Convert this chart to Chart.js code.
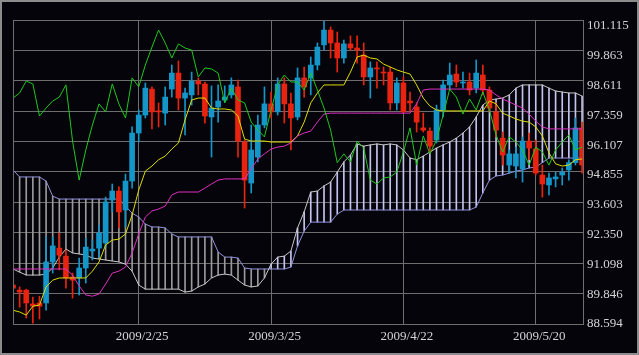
<!DOCTYPE html>
<html>
<head>
<meta charset="utf-8">
<title>USD/JPY Ichimoku</title>
<script src="https://cdn.jsdelivr.net/npm/chart.js@4.4.0/dist/chart.umd.min.js"></script>
<style>
  html, body { margin: 0; padding: 0; background: #04040a; }
  canvas { display: block; }
</style>
</head>
<body>
<canvas id="chart" width="639" height="355"></canvas>
<script>
// ─── Data (daily bars, 2009/1/29 – 2009/5/29) ────────────────────
const xTickIndex  = [19, 39, 59, 79];
const xTickLabels = ["2009/2/25", "2009/3/25", "2009/4/22", "2009/5/20"];

const yTickValues = [101.115, 99.863, 98.611, 97.359, 96.107, 94.855, 93.603, 92.350, 91.098, 89.846, 88.594];
const yTickLabels = ["101.115", "99.863", "98.611", "97.359", "96.107", "94.855", "93.603", "92.350", "91.098", "89.846", "88.594"];

const open = [
  90.20, 89.99, 89.99, 89.42, 89.46, 89.46, 91.15, 91.72, 91.39, 90.53,
  90.49, 90.90, 91.60, 91.72, 91.93, 93.70, 94.07, 93.29, 94.48, 96.46,
  97.20, 98.27, 97.37, 97.28, 98.27, 98.93, 97.90, 98.03, 98.60, 98.48,
  97.12, 97.53, 97.82, 98.03, 98.36, 96.09, 94.40, 95.47, 96.79, 97.66,
  97.33, 98.48, 97.66, 97.12, 98.73, 98.73, 99.26, 100.09, 100.70, 100.17,
  99.55, 100.13, 99.96, 99.67, 98.77, 99.14, 98.97, 98.97, 97.70, 98.52,
  97.78, 97.53, 96.67, 96.54, 96.17, 97.41, 98.44, 98.89, 98.52, 98.56,
  98.31, 98.85, 98.23, 97.33, 96.25, 95.14, 95.10, 94.98, 96.13, 95.80,
  94.73, 94.32, 94.57, 94.73, 94.94, 95.24, 96.67
];
const high = [
  90.24, 90.12, 90.03, 89.70, 89.74, 92.18, 92.18, 92.34, 91.64, 90.69,
  91.31, 92.13, 92.05, 92.67, 93.82, 94.36, 94.24, 94.77, 96.71, 97.41,
  98.52, 98.36, 97.70, 98.36, 99.26, 99.43, 98.31, 98.97, 98.73, 98.56,
  98.40, 98.44, 98.40, 98.73, 98.64, 96.17, 96.79, 97.20, 98.36, 98.15,
  98.73, 98.73, 98.11, 99.14, 99.18, 99.59, 100.17, 101.10, 100.83, 100.62,
  100.29, 100.46, 100.46, 100.17, 99.39, 99.39, 99.18, 99.18, 98.73, 98.77,
  98.15, 97.70, 97.28, 96.67, 97.61, 98.64, 99.34, 99.26, 98.97, 98.93,
  99.47, 99.26, 98.36, 97.70, 96.50, 95.76, 95.88, 96.30, 96.46, 96.17,
  95.14, 94.81, 94.85, 95.02, 95.36, 97.08, 96.91
];
const low = [
  89.95, 89.29, 88.84, 88.63, 88.80, 89.16, 90.69, 90.82, 90.07, 89.66,
  89.79, 90.28, 91.23, 91.35, 91.76, 93.21, 92.55, 92.59, 94.19, 96.09,
  97.08, 96.63, 96.71, 96.79, 97.94, 97.41, 96.38, 97.61, 98.03, 96.87,
  95.47, 96.91, 97.74, 97.90, 95.47, 93.37, 93.99, 95.27, 96.67, 97.08,
  97.20, 96.87, 95.76, 97.00, 97.94, 98.03, 99.06, 99.88, 99.55, 98.97,
  99.34, 99.88, 99.34, 98.44, 97.90, 98.31, 98.44, 97.41, 97.41, 97.28,
  97.33, 96.50, 96.50, 95.64, 96.05, 97.12, 98.23, 98.36, 98.31, 98.03,
  98.11, 98.03, 97.33, 96.30, 95.14, 94.81, 94.61, 94.44, 95.36, 94.73,
  93.82, 93.91, 94.24, 94.32, 94.52, 95.14, 94.81
];
const close = [
  90.07, 89.91, 89.46, 89.33, 89.33, 91.15, 91.81, 91.43, 90.49, 90.40,
  90.90, 91.76, 91.68, 92.34, 93.62, 94.07, 93.21, 94.48, 96.46, 97.20,
  98.31, 97.33, 97.33, 97.94, 98.93, 97.90, 98.11, 98.60, 98.48, 97.16,
  97.49, 97.78, 97.94, 98.44, 96.13, 94.52, 95.76, 96.79, 97.66, 97.33,
  98.48, 97.66, 97.08, 98.73, 98.36, 99.26, 100.00, 100.70, 100.17, 99.55,
  100.13, 99.96, 99.88, 98.77, 99.14, 99.10, 98.93, 97.70, 98.52, 97.33,
  97.70, 96.91, 96.58, 95.92, 97.41, 98.44, 98.85, 98.56, 98.56, 98.23,
  98.93, 98.23, 97.49, 96.58, 95.55, 95.60, 95.60, 96.13, 95.84, 94.81,
  94.36, 94.61, 94.65, 94.85, 95.24, 96.67, 95.14
];

// conversion line (yellow)
const tenkan = [
  89.16, 89.09, 88.96, 89.33, 89.37, 90.12, 90.40, 90.49, 90.49, 90.49,
  90.49, 90.49, 90.77, 91.15, 91.85, 92.05, 92.09, 92.30, 93.08, 94.11,
  94.89, 95.10, 95.36, 95.51, 95.80, 96.05, 97.00, 97.82, 97.90, 97.90,
  97.49, 97.45, 97.45, 97.41, 97.16, 96.21, 96.13, 96.13, 96.13, 96.09,
  96.09, 96.09, 96.09, 96.34, 96.91, 97.70, 98.11, 98.44, 98.44, 98.44,
  98.44, 98.97, 99.59, 99.67, 99.55, 99.51, 99.30, 99.18, 99.06, 98.97,
  98.89, 98.44, 97.90, 97.57, 97.41, 97.37, 97.37, 97.37, 97.37, 97.37,
  97.37, 97.37, 97.78, 97.66, 97.28, 97.16, 97.04, 96.95, 96.91, 96.71,
  96.34, 95.64, 95.19, 95.10, 95.14, 95.36, 95.39
];
// base line (magenta)
const kijun = [
  90.86, 90.86, 90.86, 90.86, 90.86, 90.86, 90.86, 90.86, 90.86, 90.61,
  90.16, 89.79, 89.74, 89.83, 90.24, 90.69, 90.77, 90.94, 91.52, 92.30,
  93.00, 93.25, 93.33, 93.45, 93.91, 94.03, 94.03, 94.03, 94.03, 94.19,
  94.36, 94.52, 94.57, 94.57, 94.57, 94.57, 94.98, 95.39, 95.60, 95.80,
  95.88, 95.92, 96.05, 96.34, 96.46, 96.54, 96.91, 97.24, 97.28, 97.28,
  97.28, 97.28, 97.28, 97.28, 97.28, 97.28, 97.28, 97.28, 97.28, 97.28,
  97.28, 97.66, 98.23, 98.27, 98.27, 98.27, 98.27, 98.27, 98.27, 98.27,
  98.27, 98.27, 98.23, 98.03, 97.86, 97.74, 97.61, 97.49, 97.24, 96.95,
  96.71, 96.63, 96.63, 96.63, 96.63, 96.63, 96.63
];
// lagging span (green)
const chikou = [
  97.90, 98.11, 98.60, 98.48, 97.16, 97.49, 97.78, 97.94, 98.44, 96.13,
  94.52, 95.76, 96.79, 97.66, 97.33, 98.48, 97.66, 97.08, 98.73, 98.36,
  99.26, 100.00, 100.70, 100.17, 99.55, 100.13, 99.96, 99.88, 98.77, 99.14,
  99.10, 98.93, 97.70, 98.31, 97.82, 97.70, 96.91, 96.58, 96.30, 97.41,
  98.44, 98.85, 98.56, 98.56, 98.23, 98.93, 98.23, 97.49, 96.58, 95.24,
  95.60, 95.27, 96.13, 95.84, 94.52, 94.36, 94.61, 94.65, 94.85, 95.68,
  96.67, 95.14, 96.34, 95.60, 96.17, 97.20, 98.27, 97.94, 97.24, 97.86,
  97.41, 98.15, 97.41, 96.38, 95.68, 96.30, 96.09, 95.76, 95.14, 95.88,
  95.68, 95.14, 95.76, 96.09, 96.38, 95.76, 95.88
];
// leading span A (light grey)
const spanA = [
  90.86, 90.73, 90.61, 90.61, 90.61, 90.65, 90.90, 91.35, 91.68, 91.52,
  91.48, 91.43, 91.31, 91.27, 91.23, 91.19, 91.15, 91.06, 90.77, 90.20,
  90.03, 90.03, 90.03, 90.03, 90.03, 90.03, 89.91, 89.95, 90.12, 90.24,
  90.49, 90.61, 90.65, 90.61, 90.40, 90.20, 90.12, 90.16, 90.49, 91.06,
  91.35, 91.39, 91.60, 92.55, 93.21, 94.03, 94.07, 94.28, 94.44, 94.85,
  95.27, 95.55, 96.01, 95.92, 95.97, 96.01, 95.97, 96.01, 95.97, 95.76,
  95.43, 95.36, 95.51, 95.68, 95.84, 95.97, 96.09, 96.25, 96.46, 96.71,
  97.12, 97.61, 97.82, 97.86, 97.90, 98.03, 98.31, 98.44, 98.44, 98.44,
  98.44, 98.31, 98.19, 98.15, 98.11, 98.11, 97.98
];
// leading span B (lavender)
const spanB = [
  94.94, 94.65, 94.65, 94.65, 94.65, 94.48, 93.86, 93.74, 93.74, 93.74,
  93.74, 93.74, 93.74, 93.74, 93.74, 93.74, 93.74, 93.45, 93.16, 93.00,
  92.71, 92.59, 92.59, 92.55, 92.30, 92.18, 92.18, 92.18, 92.18, 92.18,
  92.18, 91.56, 91.35, 91.35, 91.31, 90.90, 90.86, 90.86, 90.86, 90.86,
  90.86, 90.86, 90.94, 91.81, 92.42, 92.79, 92.79, 92.79, 92.79, 93.12,
  93.29, 93.29, 93.29, 93.29, 93.29, 93.29, 93.29, 93.29, 93.29, 93.29,
  93.29, 93.29, 93.29, 93.29, 93.29, 93.29, 93.29, 93.29, 93.29, 93.29,
  93.41, 93.99, 94.52, 94.69, 94.73, 94.81, 94.89, 94.94, 95.02, 95.06,
  95.24, 95.43, 95.43, 95.43, 95.43, 95.43, 95.43
];

// ─── Styling ─────────────────────────────────────────────────────
const BG = "#04040a";
const GRID = "#6e6e6e";
const TEXT = "#d4d4d4";
const FONT = { family: "'Liberation Serif', 'DejaVu Serif', serif", size: 13 };
const UP = "#1496c8";
const DOWN = "#e8230f";

const idx = close.map((_, i) => i);
const candleColor = idx.map(i => (close[i] >= open[i] ? UP : DOWN));
const cloudColor = idx.map(i => (spanA[i] >= spanB[i] ? "#c4c4f0" : "#9a9a9a"));

const pairs = (a, b) => idx.map(i => ({ x: i, y: [a[i], b[i]] }));
const series = arr => arr.map((v, i) => ({ x: i, y: v }));

function lineSet(label, data, color, order) {
  return {
    type: "line", label, data: series(data), borderColor: color,
    borderWidth: 1, pointRadius: 0, tension: 0, order,
  };
}

function barSet(label, data, colors, thickness, order) {
  return {
    type: "bar", label, data, backgroundColor: colors, barThickness: thickness,
    grouped: false, minBarLength: 1, borderWidth: 0, order,
  };
}

// black background + plot frame + outer border
const framePlugin = {
  id: "frame",
  beforeDraw(chart) {
    const { ctx, width, height } = chart;
    ctx.save();
    ctx.fillStyle = BG;
    ctx.fillRect(0, 0, width, height);
    ctx.restore();
  },
  afterDraw(chart) {
    const { ctx, chartArea: a, width, height } = chart;
    ctx.save();
    ctx.strokeStyle = GRID;
    ctx.lineWidth = 1;
    ctx.strokeRect(Math.round(a.left) + 0.5, Math.round(a.top) + 0.5,
                   Math.round(a.right - a.left), Math.round(a.bottom - a.top));
    ctx.strokeStyle = "#8c8c8c";
    ctx.lineWidth = 2;
    ctx.strokeRect(1, 1, width - 2, height - 2);
    ctx.restore();
  },
};

new Chart(document.getElementById("chart"), {
  type: "line",
  data: {
    datasets: [
      lineSet("Chikou", chikou, "#1ec81e", 0),
      lineSet("Kijun", kijun, "#e030c0", 0),
      lineSet("Tenkan", tenkan, "#dcdc00", 0),
      barSet("Body", pairs(open, close), candleColor, 5, 1),
      barSet("Wick", pairs(low, high), candleColor, 1, 2),
      lineSet("Span A", spanA, "#c8c8c8", 3),
      lineSet("Span B", spanB, "#9292dc", 3),
      barSet("Cloud", pairs(spanA, spanB), cloudColor, 1, 4),
    ],
  },
  options: {
    responsive: false,
    animation: false,
    layout: { padding: { left: 13, top: 20, right: 0, bottom: 0 } },
    plugins: { legend: { display: false }, tooltip: { enabled: false } },
    scales: {
      x: {
        type: "linear", min: 0, max: 86.14, offset: false,
        grid: { color: GRID, drawTicks: false, offset: false },
        border: { display: false },
        afterBuildTicks: s => { s.ticks = xTickIndex.map(v => ({ value: v })); },
        ticks: {
          color: TEXT, font: FONT, padding: 5, labelOffset: 3.5,
          maxRotation: 0, autoSkip: false,
          callback: (v, i) => xTickLabels[i],
        },
        afterFit: s => { s.height = 31; },
      },
      y: {
        position: "right", min: 88.594, max: 101.115, beginAtZero: false,
        grid: { color: GRID, drawTicks: false },
        border: { display: false },
        afterBuildTicks: s => { s.ticks = yTickValues.map(v => ({ value: v })); },
        ticks: { display: false },
        afterFit: s => { s.width = 0; },
      },
      yLabels: {
        position: "right", min: 88.594, max: 101.367, beginAtZero: false,
        grid: { display: false, drawTicks: false },
        border: { display: false },
        afterBuildTicks: s => { s.ticks = yTickValues.map(v => ({ value: v })); },
        ticks: {
          color: TEXT, font: FONT, padding: 4, autoSkip: false,
          callback: (v, i) => yTickLabels[i],
        },
        afterFit: s => { s.width = 56; },
      },
    },
  },
  plugins: [framePlugin],
});
</script>
</body>
</html>
